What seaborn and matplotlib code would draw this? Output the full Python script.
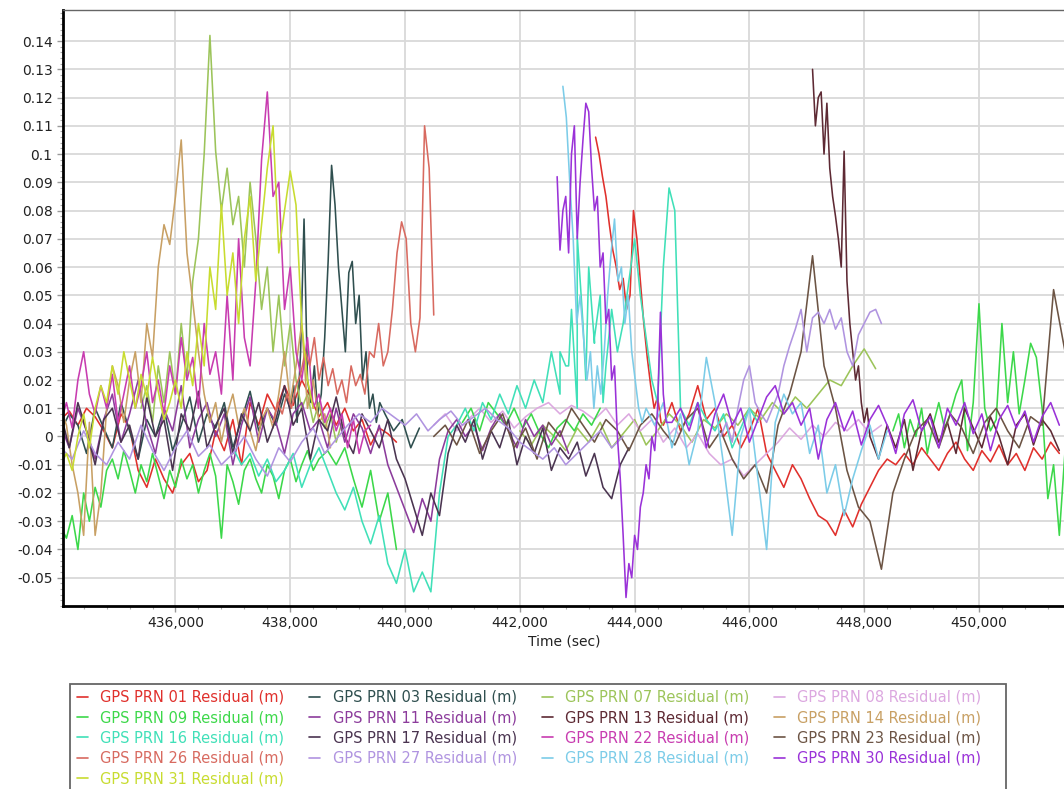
import numpy as np
import pandas as pd
import matplotlib
matplotlib.use("Agg")
import matplotlib.pyplot as plt
import seaborn as sns
from matplotlib.lines import Line2D
from matplotlib.patches import Rectangle
from matplotlib.ticker import MultipleLocator, FuncFormatter

# ---------------- data (segments: start time, sample step, residual values) ----------------
PRN01 = [(434000, 150, [0.006, 0.009, 0.004, 0.010, 0.007, 0.002, -0.004, 0.008, 0.003, -0.012,
                        -0.018, -0.008, -0.015, -0.020, -0.010, -0.006, -0.016, -0.012, 0.002, -0.005,
                        0.006, -0.010, 0.012, 0.004, 0.015, 0.009, 0.018, 0.011, 0.020, 0.014,
                        0.007, 0.012, 0.004, 0.010, 0.002, 0.006, -0.003, 0.003, 0.001, -0.002]),
         (443320, 60, [0.106, 0.100, 0.092, 0.085, 0.075, 0.066, 0.060, 0.052, 0.056, 0.045,
                       0.050, 0.080, 0.070, 0.055, 0.040, 0.028, 0.018, 0.010, 0.014, 0.005]),
         (444500, 150, [0.004, 0.012, 0.002, 0.008, 0.018, 0.006, 0.010, 0.000, 0.004, -0.004,
                        0.002, 0.010, -0.006, -0.012, -0.018, -0.010, -0.015, -0.022, -0.028, -0.030,
                        -0.035, -0.026, -0.032, -0.024, -0.018, -0.012, -0.008, -0.010, -0.006, -0.010,
                        -0.004, -0.008, -0.012, -0.006, -0.002, -0.008, -0.012, -0.005, -0.009, -0.003,
                        -0.010, -0.006, -0.012, -0.004, -0.008, -0.002, -0.006])]
PRN03 = [(434000, 150, [0.002, 0.008, 0.004, -0.006, 0.010, 0.003, -0.004, 0.012, 0.002, -0.008,
                        0.006, 0.000, 0.010, -0.005, 0.004, 0.014, -0.002, 0.008, 0.003, 0.012,
                        -0.004, 0.006, 0.016, 0.002, 0.010, 0.004, 0.015]),
         (438000, 60, [0.010, 0.018, 0.005, 0.030, 0.077, 0.020, 0.012, 0.025, 0.008, 0.015,
                       0.035, 0.062, 0.096, 0.082, 0.060, 0.045, 0.030, 0.058, 0.062, 0.040,
                       0.050, 0.020, 0.030, 0.010, 0.015, 0.005, 0.012]),
         (439650, 150, [0.008, 0.002, 0.006, -0.004, 0.003])]
PRN07 = [(435400, 100, [0.010, 0.018, 0.005, 0.025, 0.012, 0.030, 0.015, 0.040, 0.020, 0.055,
                        0.070, 0.100, 0.142, 0.101, 0.080, 0.095, 0.075, 0.085, 0.060, 0.090,
                        0.070, 0.045, 0.060, 0.030, 0.050, 0.025, 0.040, 0.020, 0.010, 0.015,
                        0.005, 0.012, 0.003, 0.008, -0.002, 0.005]),
         (442000, 200, [0.002, -0.003, 0.004, 0.000, -0.005, 0.003, -0.002, 0.005, -0.004, 0.001,
                        0.006, -0.003, 0.002, 0.008, 0.004, -0.002, 0.006, 0.003, 0.008, 0.004,
                        0.010, 0.006, 0.012, 0.008, 0.014, 0.010, 0.015, 0.020, 0.018, 0.025,
                        0.031, 0.024])]
PRN08 = [(440500, 200, [0.004, 0.008, 0.002, 0.006, 0.010, 0.005, 0.009, 0.003, 0.007, 0.010,
                        0.012, 0.008, 0.011, 0.009, 0.006, 0.010, 0.004, 0.008, 0.002, 0.006,
                        -0.002, 0.003, -0.004, 0.001, -0.006, -0.010, -0.008, -0.014, -0.010, -0.006,
                        -0.002, 0.003, -0.001, 0.004, 0.000, 0.005, 0.002, 0.006, 0.001, 0.004])]
PRN09 = [(434000, 100, [-0.032, -0.036, -0.028, -0.040, -0.020, -0.030, -0.018, -0.025, -0.012, -0.008,
                        -0.015, -0.005, -0.012, -0.020, -0.010, -0.016, -0.006, -0.014, -0.022, -0.012,
                        -0.018, -0.008, -0.015, -0.010, -0.020, -0.012, -0.006, -0.014, -0.036, -0.010,
                        -0.016, -0.024, -0.012, -0.008, -0.015, -0.020, -0.010, -0.014, -0.022, -0.012,
                        -0.008, -0.016, -0.010, -0.005, -0.012]),
         (438500, 150, [-0.008, -0.005, -0.010, -0.004, -0.015, -0.025, -0.012, -0.030, -0.020, -0.040]),
         (441000, 150, [0.005, 0.010, 0.002, 0.012, 0.008, 0.004, 0.010, 0.003, 0.008, 0.001,
                        -0.004, 0.003, 0.006, 0.002, 0.008, 0.004, 0.010]),
         (448500, 100, [0.002, 0.008, -0.004, 0.006, 0.000, 0.010, -0.006, 0.004, 0.012, 0.003,
                        0.008, 0.015, 0.020, -0.005, 0.012, 0.047, 0.010, 0.002, 0.006, 0.040,
                        0.012, 0.030, 0.008, 0.020, 0.033, 0.028, 0.010, -0.022, -0.010, -0.035,
                        -0.005, 0.002])]
PRN11 = [(434000, 150, [0.004, -0.004, 0.010, 0.002, -0.008, 0.006, 0.015, -0.002, 0.008, 0.020,
                        0.004, -0.006, 0.010, 0.002, 0.018, -0.004, 0.006, 0.012, 0.000, 0.008,
                        -0.010, 0.004, 0.014, -0.002, 0.010, 0.005, -0.006, 0.008, 0.012, 0.002,
                        0.006, -0.004, 0.010, -0.002, 0.008, 0.003, -0.006, 0.004, -0.010, -0.018,
                        -0.026, -0.034, -0.022, -0.030, -0.008, 0.002, 0.006, 0.000, 0.004, -0.005,
                        0.003, 0.008, 0.002, -0.004, 0.006, 0.000, 0.004, -0.003, 0.002, -0.006])]
PRN13 = [(447100, 50, [0.130, 0.110, 0.120, 0.122, 0.100, 0.118, 0.095, 0.085, 0.078, 0.070,
                       0.060, 0.101, 0.055, 0.040, 0.030, 0.020, 0.025, 0.012, 0.005, 0.010]),
         (448100, 150, [0.000, -0.008, 0.004, -0.004, 0.006, -0.012, 0.002, 0.008, -0.002, 0.005,
                        -0.006, 0.010, 0.003, -0.004, 0.007, 0.000, -0.010, 0.004, 0.008, -0.003,
                        0.006, 0.002, -0.005])]
PRN14 = [(434000, 100, [0.010, 0.004, -0.010, -0.020, -0.035, 0.005, -0.035, -0.020, 0.010, 0.025,
                        0.018, 0.005, 0.020, 0.030, 0.012, 0.040, 0.028, 0.060, 0.075, 0.068,
                        0.085, 0.105, 0.065, 0.048, 0.030, 0.015, 0.005, 0.012, -0.002, 0.008,
                        0.015, 0.004, 0.010, 0.002, -0.005, 0.006, 0.010, 0.003, 0.015, 0.030,
                        0.012, 0.025, 0.040, 0.010, 0.020, 0.005, 0.008, -0.004])]
PRN16 = [(437000, 150, [-0.004, -0.010, -0.006, -0.014, -0.008, -0.016, -0.012, -0.006, -0.018, -0.010,
                        -0.004, -0.012, -0.020, -0.026, -0.018, -0.030, -0.038, -0.028, -0.045, -0.052,
                        -0.040, -0.055, -0.048, -0.055, -0.020, 0.000, 0.004, 0.010, 0.002, 0.012,
                        0.006, 0.015, 0.008, 0.018, 0.010, 0.020, 0.012, 0.030, 0.015, 0.025,
                        0.010, 0.020, 0.033, 0.012]),
         (442700, 100, [0.030, 0.025, 0.045, 0.071, 0.040, 0.060, 0.035, 0.050, 0.025, 0.045,
                        0.030, 0.040, 0.055, 0.070, 0.050, 0.035, 0.020, 0.012, 0.060, 0.088,
                        0.080]),
         (444800, 150, [0.010, 0.004, 0.012, 0.006, 0.002, 0.008, -0.004, 0.003, 0.010, 0.005])]
PRN17 = [(434000, 150, [0.008, -0.004, 0.012, 0.002, -0.010, 0.006, 0.010, -0.002, 0.004, -0.008,
                        0.014, 0.000, 0.006, -0.012, 0.008, 0.002, 0.016, -0.004, 0.004, 0.010,
                        -0.006, 0.008, 0.002, 0.012, -0.002, 0.006, 0.018, 0.004, 0.010, -0.008,
                        0.006, 0.002, 0.014, 0.000, -0.006, 0.008, 0.002, -0.004, 0.006, -0.008,
                        -0.015, -0.025, -0.035, -0.020, -0.028, -0.006, 0.004, -0.002, 0.006, -0.008,
                        0.002, -0.004, 0.006, -0.010, 0.000, -0.006, 0.003, -0.012, -0.004, -0.008,
                        -0.002, -0.014, -0.006, -0.018, -0.022, -0.010, -0.004])]
PRN22 = [(434000, 100, [0.005, 0.012, 0.003, 0.020, 0.030, 0.015, 0.008, 0.018, 0.010, 0.022,
                        0.005, 0.015, 0.025, 0.010, 0.018, 0.030, 0.012, 0.020, 0.008, 0.025,
                        0.015, 0.035, 0.020, 0.028, 0.010, 0.040, 0.022, 0.030, 0.015, 0.050,
                        0.020, 0.070, 0.035, 0.025, 0.055, 0.098, 0.122, 0.085, 0.090, 0.045,
                        0.060, 0.030, 0.020, 0.035, 0.010, 0.015, 0.005, 0.010, 0.002, 0.008,
                        -0.004, 0.006, -0.006, 0.002, 0.004])]
PRN23 = [(440500, 200, [0.000, 0.004, -0.003, 0.006, -0.006, 0.002, 0.008, -0.004, 0.003, -0.008,
                        0.005, 0.000, 0.010, 0.004, -0.002, 0.006, 0.002, -0.005, 0.004, 0.008,
                        0.002, -0.003, 0.006, 0.010, -0.004, 0.002, -0.008, -0.015, -0.010, -0.020,
                        0.004, 0.015, 0.030, 0.064, 0.025, 0.010, -0.012, -0.025, -0.030, -0.047,
                        -0.020, -0.008, 0.002, 0.006, -0.004, 0.008, 0.003, -0.006, 0.005, 0.010,
                        0.002, -0.004, 0.007, 0.004, 0.052, 0.030])]
PRN26 = [(437700, 80, [0.005, 0.012, 0.008, 0.015, 0.010, 0.018, 0.022, 0.030, 0.025, 0.035,
                       0.020, 0.028, 0.018, 0.024, 0.015, 0.020, 0.012, 0.025, 0.018, 0.022,
                       0.015, 0.030, 0.028, 0.040, 0.025, 0.030, 0.045, 0.065, 0.076, 0.070,
                       0.040, 0.030, 0.042, 0.110, 0.095, 0.043])]
PRN27 = [(434000, 200, [-0.004, -0.008, 0.002, -0.006, -0.010, -0.002, -0.008, 0.004, -0.005, -0.012,
                        -0.004, 0.002, -0.007, -0.003, -0.010, -0.006, 0.000, -0.008, -0.014, -0.004,
                        -0.009, -0.002, 0.003, -0.006, -0.001, 0.004, 0.008, 0.005, 0.010, 0.007,
                        0.004, 0.008, 0.002, 0.006, 0.009, 0.004, 0.007, 0.010, 0.006, 0.003,
                        -0.002, -0.005, -0.008, -0.004, -0.010, -0.006, -0.002, 0.002, -0.004, 0.000]),
         (445500, 100, [0.000, 0.005, -0.002, 0.010, 0.020, 0.025, 0.012, 0.008, 0.005, 0.010,
                        0.015, 0.025, 0.032, 0.038, 0.045, 0.030, 0.042, 0.044, 0.040, 0.045,
                        0.038, 0.042, 0.030, 0.025, 0.036, 0.040, 0.044, 0.045, 0.040])]
PRN28 = [(442750, 60, [0.124, 0.113, 0.090, 0.070, 0.040, 0.050, 0.035, 0.020, 0.030, 0.010,
                       0.025, 0.015, 0.030, 0.050, 0.065, 0.077, 0.055, 0.060, 0.040, 0.050,
                       0.030, 0.020, 0.010, 0.005]),
         (444200, 150, [0.010, 0.004, 0.012, -0.004, 0.008, -0.010, 0.002, 0.028, 0.012, -0.010,
                        -0.035, 0.000, 0.010, -0.015, -0.040, 0.005, 0.015, 0.008, 0.012, -0.006,
                        0.004, -0.020, -0.010, -0.028, -0.015, -0.005, 0.004, -0.008, 0.002])]
PRN30 = [(442650, 50, [0.092, 0.066, 0.080, 0.085, 0.065, 0.100, 0.110, 0.070, 0.090, 0.105,
                       0.118, 0.115, 0.095, 0.080, 0.085, 0.060, 0.065, 0.040, 0.045, 0.020,
                       0.025, 0.000, -0.015, -0.035, -0.057, -0.045, -0.050, -0.035, -0.040, -0.025,
                       -0.020, -0.010, -0.015, 0.000, -0.005, 0.010, 0.044, 0.015, 0.005]),
         (444650, 150, [0.005, 0.010, 0.002, 0.012, -0.004, 0.008, 0.015, 0.004, 0.010, -0.002,
                        0.006, 0.014, 0.018, 0.008, 0.012, 0.004, 0.010, -0.008, 0.006, 0.012,
                        0.002, 0.009, -0.003, 0.006, 0.011, 0.004, -0.006, 0.008, 0.013, 0.002,
                        0.007, -0.004, 0.010, 0.004, 0.012, 0.001, 0.008, -0.005, 0.006, 0.011,
                        0.003, 0.009, -0.002, 0.007, 0.012, 0.004])]
PRN31 = [(434000, 100, [-0.010, -0.006, -0.012, 0.000, 0.008, -0.004, 0.010, 0.018, 0.012, 0.025,
                        0.015, 0.030, 0.020, 0.010, 0.022, 0.014, 0.028, 0.016, 0.006, 0.012,
                        0.020, 0.010, 0.030, 0.018, 0.040, 0.025, 0.060, 0.045, 0.082, 0.050,
                        0.065, 0.040, 0.070, 0.085, 0.055, 0.075, 0.095, 0.110, 0.065, 0.080,
                        0.094, 0.082, 0.040, 0.020, 0.010])]

PRNS = ["01", "03", "07", "08", "09", "11", "13", "14", "16", "17",
        "22", "23", "26", "27", "28", "30", "31"]
SERIES = [PRN01, PRN03, PRN07, PRN08, PRN09, PRN11, PRN13, PRN14, PRN16, PRN17,
          PRN22, PRN23, PRN26, PRN27, PRN28, PRN30, PRN31]
COLORS = ["#e0302c", "#2f4f4f", "#9cc45a", "#dca8e0", "#3cd84a", "#8c3c9c", "#5e2a34",
          "#c8a064", "#40e0b8", "#4a3450", "#c83cb0", "#6c5444", "#d86a60", "#b094e0",
          "#7ccce8", "#9a32d8", "#c8dc30"]

# ---------------- build long table ----------------
rows = []
unit = 0
for prn, segs in zip(PRNS, SERIES):
    last_t = None
    for t0, dt, vals in segs:
        if last_t is None or t0 - last_t > 400:
            unit += 1
        ts = t0 + dt * np.arange(len(vals))
        for t, v in zip(ts, vals):
            rows.append((prn, unit, t, v))
        last_t = ts[-1]
df = pd.DataFrame(rows, columns=["prn", "unit", "t", "v"])

# ---------------- plot ----------------
sns.set_theme(style="white")
plt.rcParams["font.family"] = ["DejaVu Sans"]

fig = plt.figure(figsize=(10.64, 7.89), dpi=100)
ax = fig.add_axes([0.0592, 0.232, 0.9418, 0.7553])

palette = dict(zip(PRNS, COLORS))
sns.lineplot(data=df, x="t", y="v", hue="prn", units="unit", estimator=None,
             palette=palette, hue_order=PRNS, linewidth=1.15, legend=False, ax=ax)

ax.set_xlim(434040, 451500)
ax.set_ylim(-0.06, 0.151)

ax.xaxis.set_major_locator(MultipleLocator(2000))
ax.xaxis.set_minor_locator(MultipleLocator(400))
ax.xaxis.set_major_formatter(FuncFormatter(lambda v, p: f"{int(round(v)):,}"))
ax.set_yticks(np.round(np.arange(-0.05, 0.1401, 0.01), 2))
ax.yaxis.set_minor_locator(MultipleLocator(0.002))


def yfmt(v, p):
    s = f"{v:.2f}".rstrip("0").rstrip(".")
    return "0" if s in ("-0", "0", "") else s


ax.yaxis.set_major_formatter(FuncFormatter(yfmt))

ax.grid(True, which="major", color="#d9d9d9", linewidth=1.3)
ax.set_axisbelow(True)
ax.tick_params(axis="both", which="major", direction="out", length=4, width=1,
               color="#999999", labelsize=10, labelcolor="#222222", left=True, bottom=True)
ax.tick_params(axis="both", which="minor", direction="out", length=2, width=0.8,
               color="#aaaaaa", left=True, bottom=True)

ax.spines["left"].set_color("black")
ax.spines["left"].set_linewidth(2)
ax.spines["bottom"].set_color("black")
ax.spines["bottom"].set_linewidth(2)
ax.spines["top"].set_color("#666666")
ax.spines["top"].set_linewidth(1)
ax.spines["right"].set_visible(False)

ax.set_xlabel("Time (sec)", fontsize=10, color="#222222", labelpad=3)
ax.set_ylabel("")

# ---------------- legend (row-wise reading order, column-major fill) ----------------
col_order = ["01", "09", "16", "26", "31", "03", "11", "17", "27",
             "07", "13", "22", "28", "08", "14", "23", "30"]
handles = [Line2D([0], [0], color=palette[p], lw=1.2) for p in col_order]
labels = [f"GPS PRN {p} Residual (m)" for p in col_order]
W, H = 1064.0, 789.0
leg = fig.legend(handles, labels, ncol=4, loc="upper left",
                 bbox_to_anchor=(77 / W, 1 - 690 / H),
                 frameon=False, fontsize=10.5,
                 handlelength=0.75, handletextpad=0.85, labelspacing=0.36,
                 columnspacing=1.7, borderpad=0, borderaxespad=0)
for txt, p in zip(leg.get_texts(), col_order):
    txt.set_color(palette[p])

# legend frame (its bottom edge runs past the image edge, as in the reference)
frame = Rectangle((70 / W, -0.02), (1006 - 70) / W, (0.02 + 1 - 684 / H),
                  transform=fig.transFigure, fill=False, edgecolor="#666666",
                  linewidth=1.3, clip_on=False)
fig.patches.append(frame)

fig.savefig("out.png", dpi=100)
